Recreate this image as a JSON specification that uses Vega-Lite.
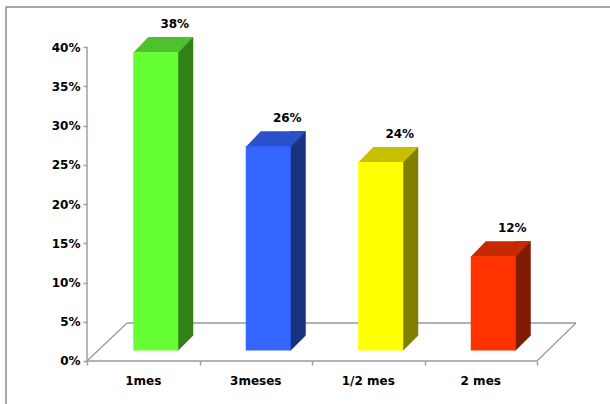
{
  "$schema": "https://vega.github.io/schema/vega-lite/v6.json",
  "width": 610,
  "height": 400,
  "autosize": {"type": "none"},
  "padding": {"left": 6, "top": 7, "right": -6, "bottom": -3},
  "background": "white",
  "config": {
    "view": {"stroke": "#8a8a8a", "strokeWidth": 1.5},
    "axis": {
      "grid": false,
      "domain": false,
      "labelFont": "DejaVu Sans",
      "labelFontWeight": "bold",
      "labelFontSize": 12,
      "labelColor": "#000000",
      "tickColor": "#a0a0a0",
      "tickWidth": 1.5
    }
  },
  "datasets": {
    "respuestas": [
      {"mes": "1mes", "val": 0.38},
      {"mes": "3meses", "val": 0.26},
      {"mes": "1/2 mes", "val": 0.24},
      {"mes": "2 mes", "val": 0.12}
    ]
  },
  "layer": [
    {
      "data": {"values": [{}]},
      "layer": [
        {
          "mark": {"type": "rule", "color": "#a0a0a0", "strokeWidth": 1.5},
          "encoding": {
            "x": {
              "datum": 0,
              "type": "quantitative",
              "scale": {"domain": [-0.72, 4.70222], "nice": false, "zero": false},
              "axis": {"orient": "bottom", "offset": -46, "values": [0, 1, 2, 3, 4], "labels": false, "tickSize": 4, "title": null}
            },
            "y": {
              "datum": 0,
              "type": "quantitative",
              "scale": {"domain": [-0.0586, 0.45096], "nice": false, "zero": false},
              "axis": {"orient": "left", "offset": -81, "values": [0, 0.05, 0.1, 0.15, 0.2, 0.25, 0.3, 0.35, 0.4], "format": ".0%", "tickSize": 4, "labelPadding": 3, "title": null}
            },
            "y2": {"datum": 0.4}
          }
        },
        {
          "mark": {"type": "rule", "color": "#999999", "strokeWidth": 1.5},
          "encoding": {
            "x": {"datum": 0, "type": "quantitative", "axis": {"orient": "bottom", "offset": -46, "values": [0, 1, 2, 3, 4], "labels": false, "tickSize": 4, "title": null}},
            "x2": {"datum": 4},
            "y": {"datum": 0, "type": "quantitative", "axis": {"orient": "left", "offset": -81, "values": [0, 0.05, 0.1, 0.15, 0.2, 0.25, 0.3, 0.35, 0.4], "format": ".0%", "tickSize": 4, "labelPadding": 3, "title": null}}
          }
        },
        {
          "mark": {"type": "rule", "color": "#999999", "strokeWidth": 1.2},
          "encoding": {
            "x": {"datum": 0, "type": "quantitative", "axis": {"orient": "bottom", "offset": -46, "values": [0, 1, 2, 3, 4], "labels": false, "tickSize": 4, "title": null}},
            "x2": {"datum": 0.3556},
            "y": {"datum": 0, "type": "quantitative", "axis": {"orient": "left", "offset": -81, "values": [0, 0.05, 0.1, 0.15, 0.2, 0.25, 0.3, 0.35, 0.4], "format": ".0%", "tickSize": 4, "labelPadding": 3, "title": null}},
            "y2": {"datum": 0.0484}
          }
        },
        {
          "mark": {"type": "rule", "color": "#999999", "strokeWidth": 1.5},
          "encoding": {
            "x": {"datum": 0.3556, "type": "quantitative", "axis": {"orient": "bottom", "offset": -46, "values": [0, 1, 2, 3, 4], "labels": false, "tickSize": 4, "title": null}},
            "x2": {"datum": 4.3467},
            "y": {"datum": 0.0484, "type": "quantitative", "axis": {"orient": "left", "offset": -81, "values": [0, 0.05, 0.1, 0.15, 0.2, 0.25, 0.3, 0.35, 0.4], "format": ".0%", "tickSize": 4, "labelPadding": 3, "title": null}}
          }
        },
        {
          "mark": {"type": "rule", "color": "#999999", "strokeWidth": 1.2},
          "encoding": {
            "x": {"datum": 4, "type": "quantitative", "axis": {"orient": "bottom", "offset": -46, "values": [0, 1, 2, 3, 4], "labels": false, "tickSize": 4, "title": null}},
            "x2": {"datum": 4.3467},
            "y": {"datum": 0, "type": "quantitative", "axis": {"orient": "left", "offset": -81, "values": [0, 0.05, 0.1, 0.15, 0.2, 0.25, 0.3, 0.35, 0.4], "format": ".0%", "tickSize": 4, "labelPadding": 3, "title": null}},
            "y2": {"datum": 0.0484}
          }
        }
      ]
    },
    {
      "data": {"name": "respuestas"},
      "layer": [
        {
          "mark": {"type": "bar", "width": 16, "xOffset": 42, "yOffset": -25.6, "y2Offset": -10.6},
          "encoding": {
            "x": {
              "field": "mes",
              "type": "nominal",
              "sort": null,
              "scale": {"paddingInner": 0, "paddingOuter": 0.711111, "align": 0.50625},
              "axis": {"orient": "bottom", "offset": -46, "ticks": false, "tickSize": 0, "labelPadding": 14, "labelAngle": 0, "title": null}
            },
            "y": {"field": "val", "type": "quantitative", "axis": {"orient": "left", "offset": -81, "values": [0, 0.05, 0.1, 0.15, 0.2, 0.25, 0.3, 0.35, 0.4], "format": ".0%", "tickSize": 4, "labelPadding": 3, "title": null}},
            "y2": {"datum": 0},
            "color": {
              "field": "mes",
              "type": "nominal",
              "sort": null,
              "scale": {"domain": ["1mes", "3meses", "1/2 mes", "2 mes"], "range": ["#338019", "#1a3380", "#808000", "#801a00"]},
              "legend": null
            }
          }
        },
        {
          "mark": {
            "type": "point",
            "shape": "M0,0L0.85,-0.85L0.85,0.1L0,0.1Z",
            "size": 1600,
            "filled": true,
            "opacity": 1,
            "strokeWidth": 0,
            "color": "#ffffff",
            "xOffset": 35,
            "yOffset": -10.6
          },
          "encoding": {
            "x": {"field": "mes", "type": "nominal", "sort": null, "axis": {"orient": "bottom", "offset": -46, "ticks": false, "tickSize": 0, "labelPadding": 14, "labelAngle": 0, "title": null}},
            "y": {"datum": 0, "type": "quantitative", "axis": {"orient": "left", "offset": -81, "values": [0, 0.05, 0.1, 0.15, 0.2, 0.25, 0.3, 0.35, 0.4], "format": ".0%", "tickSize": 4, "labelPadding": 3, "title": null}}
          }
        },
        {
          "mark": {
            "type": "point",
            "shape": "M-1,0.27L0.5,0.27L1,-0.25L-0.5,-0.25Z",
            "size": 3600,
            "filled": true,
            "opacity": 1,
            "strokeWidth": 0,
            "xOffset": 20,
            "yOffset": -18.1
          },
          "encoding": {
            "x": {"field": "mes", "type": "nominal", "sort": null, "axis": {"orient": "bottom", "offset": -46, "ticks": false, "tickSize": 0, "labelPadding": 14, "labelAngle": 0, "title": null}},
            "y": {"field": "val", "type": "quantitative", "axis": {"orient": "left", "offset": -81, "values": [0, 0.05, 0.1, 0.15, 0.2, 0.25, 0.3, 0.35, 0.4], "format": ".0%", "tickSize": 4, "labelPadding": 3, "title": null}},
            "color": {
              "field": "mes",
              "type": "nominal",
              "sort": null,
              "scale": {"domain": ["1mes", "3meses", "1/2 mes", "2 mes"], "range": ["#4fc12d", "#2a51c8", "#c6c000", "#c42900"]},
              "legend": null
            }
          }
        },
        {
          "mark": {"type": "bar", "width": 45, "xOffset": 12.5, "yOffset": -10.6, "y2Offset": -10.6},
          "encoding": {
            "x": {"field": "mes", "type": "nominal", "sort": null, "axis": {"orient": "bottom", "offset": -46, "ticks": false, "tickSize": 0, "labelPadding": 14, "labelAngle": 0, "title": null}},
            "y": {"field": "val", "type": "quantitative", "axis": {"orient": "left", "offset": -81, "values": [0, 0.05, 0.1, 0.15, 0.2, 0.25, 0.3, 0.35, 0.4], "format": ".0%", "tickSize": 4, "labelPadding": 3, "title": null}},
            "y2": {"datum": 0},
            "color": {
              "field": "mes",
              "type": "nominal",
              "sort": null,
              "scale": {"domain": ["1mes", "3meses", "1/2 mes", "2 mes"], "range": ["#66ff33", "#3366ff", "#ffff00", "#ff3300"]},
              "legend": null
            }
          }
        },
        {
          "mark": {
            "type": "text",
            "font": "DejaVu Sans",
            "fontWeight": "bold",
            "fontSize": 12,
            "color": "#000000",
            "align": "center",
            "baseline": "middle",
            "xOffset": 31.5,
            "yOffset": -38.6
          },
          "encoding": {
            "x": {"field": "mes", "type": "nominal", "sort": null, "axis": {"orient": "bottom", "offset": -46, "ticks": false, "tickSize": 0, "labelPadding": 14, "labelAngle": 0, "title": null}},
            "y": {"field": "val", "type": "quantitative", "axis": {"orient": "left", "offset": -81, "values": [0, 0.05, 0.1, 0.15, 0.2, 0.25, 0.3, 0.35, 0.4], "format": ".0%", "tickSize": 4, "labelPadding": 3, "title": null}},
            "text": {"field": "val", "type": "quantitative", "format": ".0%"}
          }
        }
      ],
      "resolve": {"scale": {"color": "independent"}}
    }
  ],
  "resolve": {"scale": {"x": "independent"}, "axis": {"x": "independent"}}
}
